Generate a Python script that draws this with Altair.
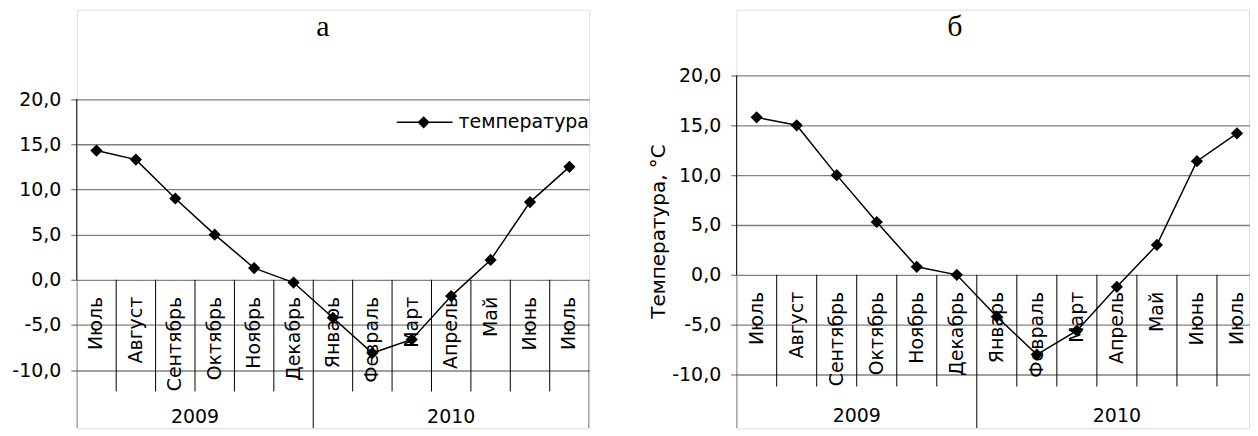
import altair as alt
import pandas as pd

# ---------------- data ----------------
months = ["Июль", "Август", "Сентябрь", "Октябрь", "Ноябрь", "Декабрь",
          "Январь", "Февраль", "Март", "Апрель", "Май", "Июнь", "Июль"]
years = ["2009"] * 6 + ["2010"] * 7
temp_a = [14.3, 13.3, 9.0, 5.0, 1.3, -0.3, -4.2, -8.1, -6.6, -1.8, 2.2, 8.6, 12.5]
temp_b = [15.8, 15.0, 10.0, 5.3, 0.8, 0.0, -4.2, -8.0, -5.6, -1.2, 3.0, 11.4, 14.2]
y_ticks = [-10, -5, 0, 5, 10, 15, 20]
y_tick_labels = ["-10,0", "-5,0", "0,0", "5,0", "10,0", "15,0", "20,0"]
series_name = "температура"
y_title_b = "Температура, °С"
panel_titles = ["а", "б"]

FONT = "DejaVu Sans"
FS = 19
GRID = "#808080"
n = len(months)

label_expr = " : ".join(
    f"datum.value == {v} ? '{lab}'" for v, lab in zip(y_ticks, y_tick_labels)
) + " : ''"

# derived tables
def points_df(vals):
    return pd.DataFrame({"pos": [i + 0.5 for i in range(n)],
                         "month": months, "year": years, "t": vals})

inner_ticks = pd.DataFrame({"pos": [i for i in range(1, n) if years[i] == years[i - 1]]})
year_breaks = pd.DataFrame({"pos": [0] + [i for i in range(1, n) if years[i] != years[i - 1]] + [n]})
groups = []
start = 0
for i in range(1, n + 1):
    if i == n or years[i] != years[start]:
        groups.append({"pos": (start + i) / 2, "year": years[start]})
        start = i
year_df = pd.DataFrame(groups)


def panel(vals, W, XR, H, ymin, ymax, title, title_x, title_y, year_dy,
          ytitle=None, legend=None):
    yscale = alt.Scale(domain=[ymin, ymax], nice=False, zero=False)
    xscale = alt.Scale(domain=[0, n], range=[0, XR], nice=False, zero=False)
    df = points_df(vals)

    axis_kwargs = dict(values=y_ticks, labelExpr=label_expr, grid=True, gridColor=GRID,
                       gridWidth=1.3, tickColor=GRID, tickWidth=1.3, tickSize=6,
                       labelPadding=10, labelFont=FONT, labelFontSize=FS,
                       labelColor="black", domain=False)
    if ytitle:
        axis_kwargs.update(title=ytitle, titleFont=FONT, titleFontSize=20,
                           titleFontWeight="normal", titleColor="black",
                           titlePadding=3, titleY=222)
    else:
        axis_kwargs.update(title=None)
    yaxis = alt.Axis(**axis_kwargs)
    X = alt.X("pos:Q", scale=xscale, axis=None)

    line = alt.Chart(df).mark_line(color="black", strokeWidth=1.5, clip=True).encode(
        x=X, y=alt.Y("t:Q", scale=yscale, axis=yaxis),
    )
    pts = alt.Chart(df).mark_point(shape="diamond", filled=True, size=150,
                                   color="black", opacity=1, clip=True).encode(
        x=X, y=alt.Y("t:Q", scale=yscale, axis=yaxis),
    )
    ticks = alt.Chart(inner_ticks).mark_rule(color="black", strokeWidth=1, y2Offset=112,
                                             clip=True).encode(
        x=X, y=alt.Y(datum=0, scale=yscale, axis=yaxis), y2=alt.Y2(datum=0),
    )
    breaks = alt.Chart(year_breaks).mark_rule(color="black", strokeWidth=1, clip=True).encode(
        x=X, y=alt.Y(datum=0, scale=yscale, axis=yaxis), y2=alt.value(H),
    )
    yline = alt.Chart(year_breaks.head(1)).mark_rule(color="black", strokeWidth=1).encode(
        x=X, y=alt.Y(datum=max(y_ticks), scale=yscale, axis=yaxis), y2=alt.Y2(datum=0),
    )
    mlabels = alt.Chart(df).mark_text(angle=270, align="right", baseline="middle",
                                      dx=-17, font=FONT, fontSize=FS, color="black").encode(
        x=X, y=alt.Y(datum=0, scale=yscale, axis=yaxis), text="month:N",
    )
    ylabels = alt.Chart(year_df).mark_text(align="center", baseline="middle", dy=year_dy,
                                           font=FONT, fontSize=FS, color="black").encode(
        x=X, y=alt.Y(datum=0, scale=yscale, axis=yaxis), text="year:N",
    )
    ttl = alt.Chart(pd.DataFrame({"t": [title]})).mark_text(
        font="Liberation Serif", fontSize=30, align="center", baseline="alphabetic",
        color="black").encode(x=alt.value(title_x), y=alt.value(title_y), text="t:N")

    layers = [line, ticks, breaks, yline, mlabels, ylabels, pts, ttl]
    if legend is not None:
        lx, ly = legend
        leg = pd.DataFrame({"s": [series_name]})
        leg_line = alt.Chart(leg).mark_rule(color="black", strokeWidth=1.5).encode(
            x=alt.value(lx), x2=alt.value(lx + 56), y=alt.value(ly))
        leg_pt = alt.Chart(leg).mark_point(
            shape="diamond", filled=True, size=150, color="black", opacity=1).encode(
            x=alt.value(lx + 27), y=alt.value(ly))
        leg_txt = alt.Chart(leg).mark_text(
            align="left", baseline="middle", font=FONT, fontSize=FS, color="black").encode(
            x=alt.value(lx + 62), y=alt.value(ly), text="s:N")
        layers += [leg_line, leg_pt, leg_txt]

    return alt.layer(*layers).properties(width=W, height=H)


H = 420
left = panel(temp_a, 514, 514, H, -16.43, 29.89, panel_titles[0], 247, 26, 138,
             legend=(321, 113))
right = panel(temp_b, 514, 522, H, -15.4, 26.6, panel_titles[1], 219, 26, 142,
              ytitle=y_title_b)

chart = alt.hconcat(left, right, spacing=58).properties(
    padding={"left": 3, "top": 0, "right": 0, "bottom": 0}
).configure_view(strokeWidth=0).configure(background="white")

chart.save("out.html", embed_options={"renderer": "svg", "actions": False})
